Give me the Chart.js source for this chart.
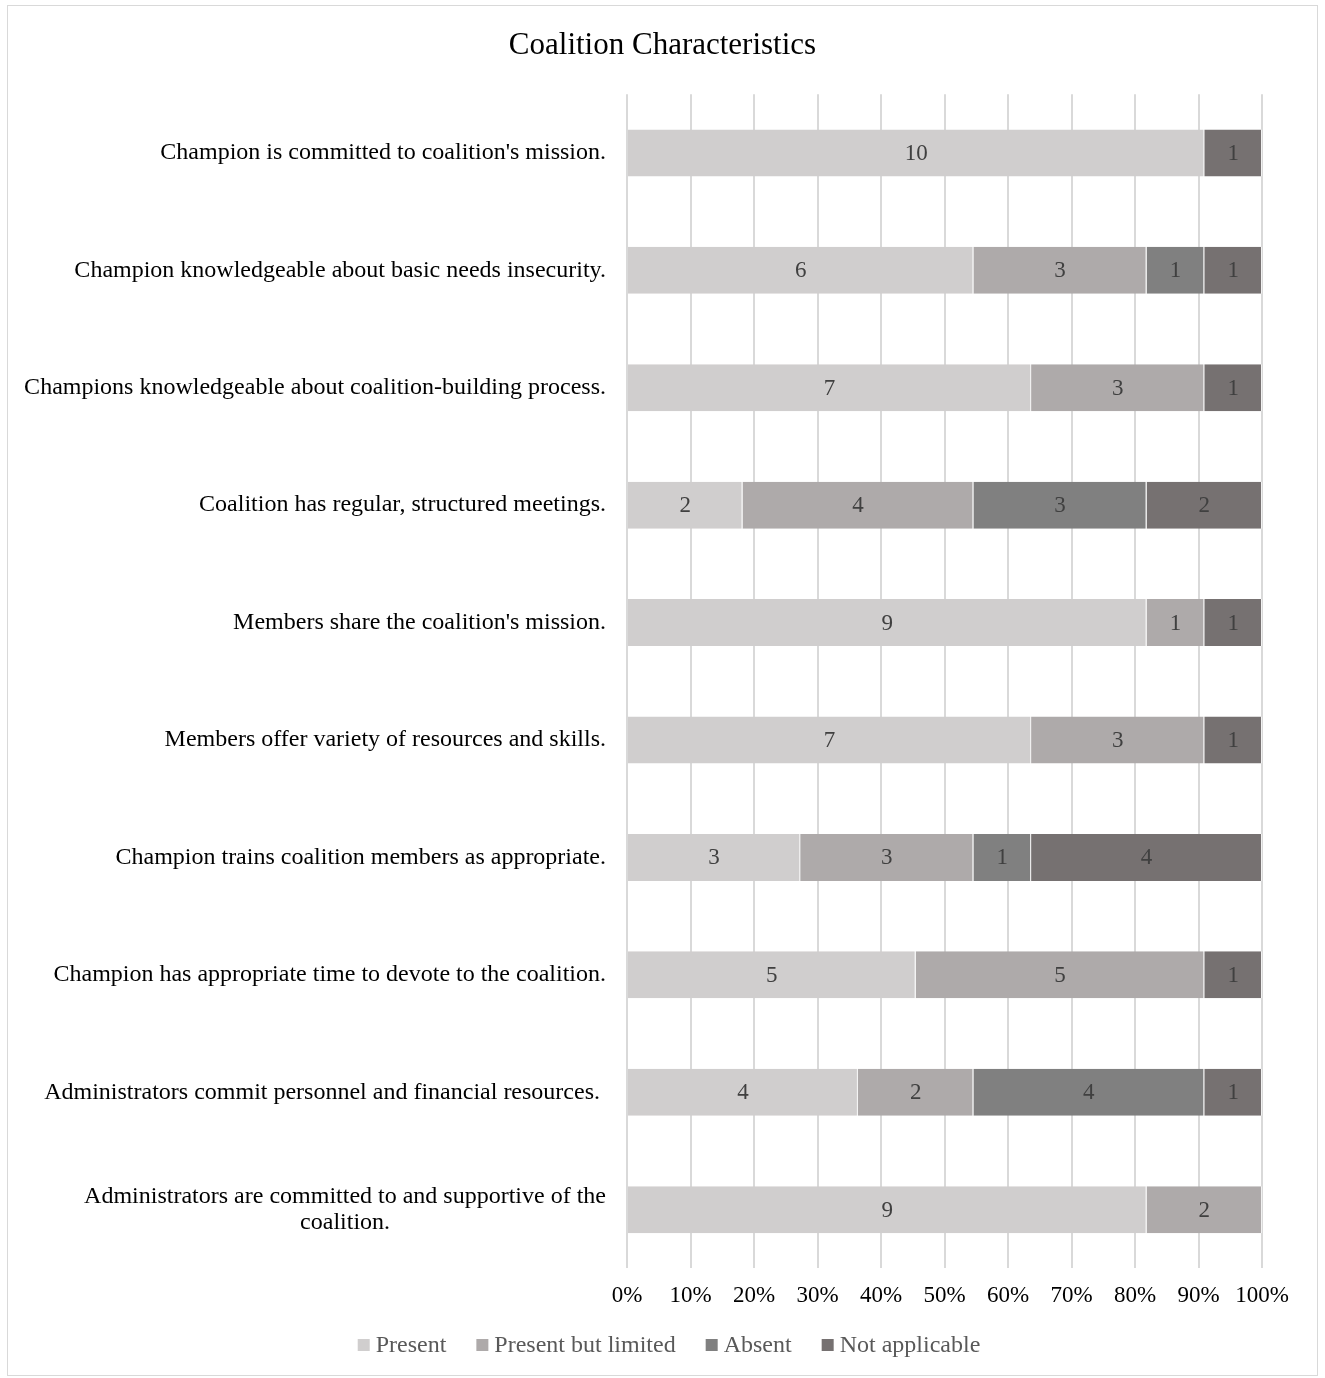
<!DOCTYPE html>
<html>
<head>
<meta charset="utf-8">
<script src="https://cdn.jsdelivr.net/npm/chart.js@4"></script>
<style>
  html, body { margin: 0; padding: 0; background: #ffffff; }
  #wrap { position: relative; width: 1325px; height: 1378px; }
</style>
</head>
<body>
<div id="wrap"><canvas id="chart" width="1325" height="1378"></canvas></div>
<script>
// Category labels (top to bottom), multi-line labels as arrays
const categories = [
    "Champion is committed to coalition's mission.",
    "Champion knowledgeable about basic needs insecurity.",
    "Champions knowledgeable about coalition-building process.",
    "Coalition has regular, structured meetings.",
    "Members share the coalition's mission.",
    "Members offer variety of resources and skills.",
    "Champion trains coalition members as appropriate.",
    "Champion has appropriate time to devote to the coalition.",
    "Administrators commit personnel and financial resources. ",
    ["Administrators are committed to and supportive of the", "coalition."]
];

// Counts per response
const present        = [10, 6, 7, 2, 9, 7, 3, 5, 4, 9];
const presentLimited = [0, 3, 3, 4, 1, 3, 3, 5, 2, 2];
const absent         = [0, 1, 0, 3, 0, 0, 1, 0, 4, 0];
const notApplicable  = [1, 1, 1, 2, 1, 1, 4, 1, 1, 0];

const seriesNames  = ['Present', 'Present but limited', 'Absent', 'Not applicable'];
const seriesCounts = [present, presentLimited, absent, notApplicable];
const seriesColors = ['#d0cece', '#aeaaaa', '#808080', '#767171'];

const xTicks = [0, 10, 20, 30, 40, 50, 60, 70, 80, 90, 100];

const FONT = "'Liberation Serif', 'Times New Roman', serif";

// Row totals -> percentages for the 100% stacked bars
const totals = categories.map((_, i) => seriesCounts.reduce((s, arr) => s + arr[i], 0));

const datasets = seriesNames.map((name, k) => ({
    label: name,
    counts: seriesCounts[k],
    data: seriesCounts[k].map((v, i) => v / totals[i] * 100),
    backgroundColor: seriesColors[k],
    borderColor: '#f2f2f2',
    borderWidth: { left: 0, right: 1, top: 0, bottom: 0 },
    borderSkipped: false,
    barPercentage: 0.4,
    categoryPercentage: 1.0
}));

// Outer frame of the chart
const framePlugin = {
    id: 'frame',
    beforeDraw(chart) {
        const ctx = chart.ctx;
        ctx.save();
        ctx.fillStyle = '#ffffff';
        ctx.fillRect(0, 0, chart.width, chart.height);
        ctx.strokeStyle = '#d9d9d9';
        ctx.lineWidth = 1;
        ctx.strokeRect(7.5, 5.5, 1310, 1370);
        ctx.restore();
    }
};

// Category labels drawn to the left of the plot (block right-aligned, lines centered)
const categoryLabelPlugin = {
    id: 'categoryLabels',
    afterDraw(chart) {
        const ctx = chart.ctx;
        const yScale = chart.scales.y;
        const xRight = chart.chartArea.left - 21;
        const lineH = 26;
        ctx.save();
        ctx.font = '24px ' + FONT;
        ctx.fillStyle = '#000000';
        ctx.textAlign = 'center';
        ctx.textBaseline = 'middle';
        categories.forEach((lab, i) => {
            const lines = Array.isArray(lab) ? lab : [lab];
            const w = Math.max(...lines.map(l => ctx.measureText(l).width));
            const cx = xRight - w / 2;
            const cy = yScale.getPixelForValue(i);
            const y0 = cy - (lines.length - 1) * lineH / 2;
            lines.forEach((l, j) => ctx.fillText(l, cx, y0 + j * lineH));
        });
        ctx.restore();
    }
};

// Count labels in the middle of each segment
const valueLabelPlugin = {
    id: 'valueLabels',
    afterDatasetsDraw(chart) {
        const ctx = chart.ctx;
        ctx.save();
        ctx.font = '23px ' + FONT;
        ctx.fillStyle = '#404040';
        ctx.textAlign = 'center';
        ctx.textBaseline = 'middle';
        chart.data.datasets.forEach((ds, k) => {
            const meta = chart.getDatasetMeta(k);
            meta.data.forEach((bar, i) => {
                const c = ds.counts[i];
                if (!c) return;
                const p = bar.getProps(['x', 'y', 'base'], true);
                ctx.fillText(String(c), (p.x + p.base) / 2, p.y + 1);
            });
        });
        ctx.restore();
    }
};

// Legend under the axis: small square + label, items centred as a row
const legendPlugin = {
    id: 'bottomLegend',
    afterDraw(chart) {
        const ctx = chart.ctx;
        const box = 12, gapText = 6, gapItem = 30;
        const y = 1345;
        ctx.save();
        ctx.font = '24px ' + FONT;
        ctx.textBaseline = 'middle';
        ctx.textAlign = 'left';
        const items = chart.data.datasets.map(ds => ({
            text: ds.label,
            color: ds.backgroundColor,
            w: ctx.measureText(ds.label).width
        }));
        const total = items.reduce((s, it) => s + box + gapText + it.w, 0) + gapItem * (items.length - 1);
        let x = 669 - total / 2;
        items.forEach(it => {
            ctx.fillStyle = it.color;
            ctx.fillRect(x, y - box / 2, box, box);
            ctx.fillStyle = '#595959';
            ctx.fillText(it.text, x + box + gapText, y + 1);
            x += box + gapText + it.w + gapItem;
        });
        ctx.restore();
    }
};

new Chart(document.getElementById('chart'), {
    type: 'bar',
    data: { labels: categories, datasets: datasets },
    plugins: [framePlugin, categoryLabelPlugin, valueLabelPlugin, legendPlugin],
    options: {
        indexAxis: 'y',
        responsive: false,
        animation: false,
        layout: { padding: { left: 63, right: 63, top: 0, bottom: 54 } },
        scales: {
            x: {
                stacked: true,
                min: 0,
                max: 100,
                afterBuildTicks: (scale) => { scale.ticks = xTicks.map(v => ({ value: v })); },
                grid: { color: '#d9d9d9', lineWidth: 2, drawTicks: false },
                border: { display: false },
                ticks: {
                    padding: 14,
                    color: '#000000',
                    font: { family: FONT, size: 23 },
                    maxRotation: 0,
                    callback: (v) => v + '%'
                }
            },
            y: {
                stacked: true,
                grid: { display: false },
                border: { display: false },
                ticks: { display: false },
                afterFit: (scale) => { scale.width = 564; }
            }
        },
        plugins: {
            title: {
                display: true,
                text: 'Coalition Characteristics',
                color: '#000000',
                font: { family: FONT, size: 31, weight: 'normal' },
                padding: { top: 27, bottom: 30 }
            },
            legend: { display: false },
            tooltip: { enabled: false }
        }
    }
});
</script>
</body>
</html>
